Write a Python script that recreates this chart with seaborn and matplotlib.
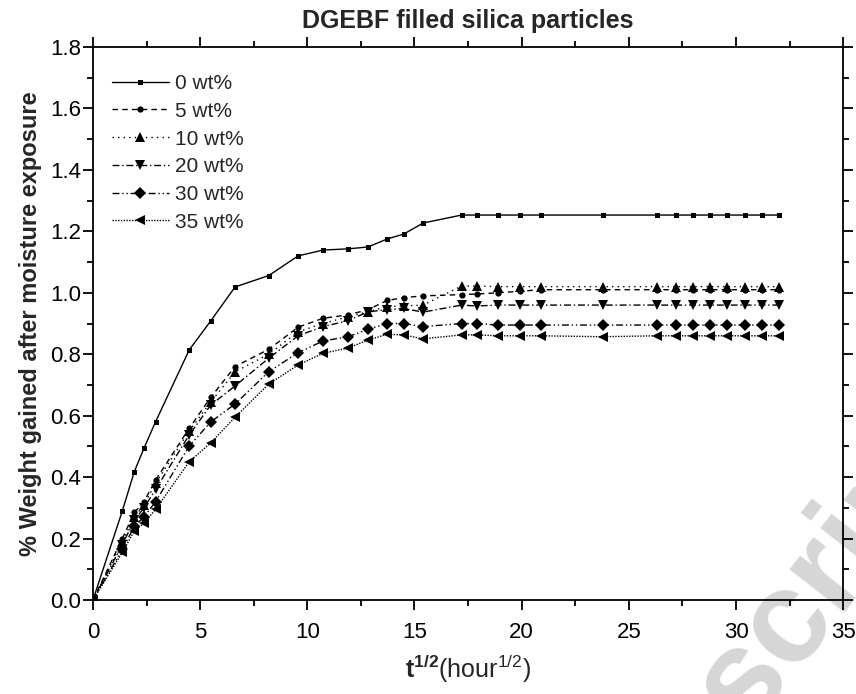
import matplotlib
matplotlib.use('Agg')
import matplotlib.pyplot as plt
import matplotlib.ticker as mticker
import pandas as pd
import seaborn as sns

# ---------------------------------------------------------------------------
# Dados (t^1/2 em hour^1/2, ganho de massa em %)
# ---------------------------------------------------------------------------
t_sqrt = [0, 1.37, 1.93, 2.38, 2.92, 4.49, 5.5, 6.63, 8.2, 9.57, 10.73, 11.9,
          12.83, 13.72, 14.5, 15.4, 17.2, 17.9, 18.9, 19.9, 20.9, 23.8, 26.3,
          27.2, 28.0, 28.8, 29.6, 30.4, 31.2, 32.0]

wt0 = [0, 0.29, 0.418, 0.494, 0.58, 0.814, 0.909, 1.019, 1.056, 1.12, 1.139,
       1.143, 1.149, 1.175, 1.191, 1.227, 1.253, 1.253, 1.253, 1.253, 1.253,
       1.253, 1.253, 1.253, 1.253, 1.253, 1.253, 1.253, 1.253, 1.253]
wt5 = [0, 0.20, 0.285, 0.32, 0.39, 0.559, 0.66, 0.76, 0.816, 0.888, 0.917,
       0.928, 0.945, 0.975, 0.984, 0.99, 0.994, 0.996, 1.0, 1.005, 1.01,
       1.01, 1.01, 1.01, 1.01, 1.01, 1.01, 1.01, 1.01, 1.01]
wt10 = [0, 0.19, 0.27, 0.31, 0.38, 0.55, 0.645, 0.743, 0.80, 0.873, 0.90,
        0.922, 0.938, 0.955, 0.957, 0.96, 1.022, 1.022, 1.02, 1.02, 1.02,
        1.02, 1.02, 1.02, 1.02, 1.02, 1.02, 1.02, 1.02, 1.02]
wt20 = [0, 0.18, 0.26, 0.30, 0.36, 0.537, 0.635, 0.697, 0.787, 0.86, 0.89,
        0.909, 0.938, 0.945, 0.949, 0.937, 0.96, 0.957, 0.96, 0.96, 0.96,
        0.96, 0.96, 0.96, 0.96, 0.96, 0.96, 0.96, 0.96, 0.96]
wt30 = [0, 0.165, 0.24, 0.27, 0.32, 0.501, 0.58, 0.638, 0.743, 0.805, 0.843,
        0.857, 0.881, 0.90, 0.90, 0.89, 0.90, 0.90, 0.895, 0.895, 0.895,
        0.895, 0.895, 0.895, 0.895, 0.895, 0.895, 0.895, 0.895, 0.895]
wt35 = [0, 0.155, 0.225, 0.25, 0.295, 0.45, 0.512, 0.595, 0.703, 0.765, 0.803,
        0.82, 0.846, 0.865, 0.863, 0.85, 0.863, 0.863, 0.86, 0.86, 0.86,
        0.857, 0.86, 0.86, 0.86, 0.86, 0.86, 0.86, 0.86, 0.86]

rotulos = ['0 wt%', '5 wt%', '10 wt%', '20 wt%', '30 wt%', '35 wt%']
series = [wt0, wt5, wt10, wt20, wt30, wt35]

# estilo de cada curva (marcador, tamanho, tracejado)
estilos = [
    ('s', 3.6, '-'),
    ('o', 4.5, (0, (4, 3))),
    ('^', 7.0, (0, (1, 3))),
    ('v', 7.0, (0, (5, 2, 1, 2))),
    ('D', 6.0, (0, (5, 2, 1, 2, 1, 2))),
    ('<', 7.0, (0, (1, 1))),
]

sns.set_theme(style='ticks')
plt.rcParams['font.family'] = ['Liberation Sans', 'DejaVu Sans']
plt.rcParams['mathtext.fontset'] = 'custom'
plt.rcParams['mathtext.rm'] = 'Liberation Sans'
plt.rcParams['mathtext.bf'] = 'Liberation Sans:bold'

fig = plt.figure(figsize=(8.56, 6.94), dpi=100)
ax = fig.add_axes([0.1086, 0.1354, 0.8764, 0.7969])
ax.set_facecolor('none')

# marca d'água cinza do manuscrito (cortada no canto, como no original)
fig.text(0.845, -0.01, 'Manuscript', rotation=52, fontsize=95, fontweight='bold',
         color='#d6d6d6', ha='center', va='center', zorder=-5)

for nome, y, (mk, ms, ls) in zip(rotulos, series, estilos):
    df = pd.DataFrame({'t': t_sqrt, 'w': y})
    sns.lineplot(data=df, x='t', y='w', ax=ax, color='black', linewidth=1.0,
                 linestyle=ls, marker=mk, markersize=ms, markeredgewidth=0,
                 label=nome)

ax.set_xlim(0, 35)
ax.set_ylim(0, 1.8)
ax.xaxis.set_major_locator(mticker.MultipleLocator(5))
ax.xaxis.set_minor_locator(mticker.MultipleLocator(2.5))
ax.yaxis.set_major_locator(mticker.MultipleLocator(0.2))
ax.yaxis.set_minor_locator(mticker.MultipleLocator(0.1))
ax.yaxis.set_major_formatter(mticker.FormatStrFormatter('%.1f'))

for s in ax.spines.values():
    s.set_linewidth(1.3)
    s.set_color('black')
ax.tick_params(which='both', direction='out', top=True, right=True,
               colors='black', width=1.3)
ax.tick_params(which='major', length=7, labelsize=16)
ax.tick_params(axis='x', which='major', pad=9)
ax.tick_params(axis='y', which='major', pad=1.5)
ax.tick_params(which='minor', length=4)

ax.set_title('DGEBF filled silica particles', fontsize=18, fontweight='bold',
             pad=14)
ax.set_xlabel(r'$\mathbf{t}^{\mathbf{1/2}}$(hour$^{1/2}$)', fontsize=18,
              labelpad=7)
ax.set_ylabel('% Weight gained after moisture exposure', fontsize=17,
              fontweight='bold', labelpad=6)

ax.legend(loc='upper left', frameon=False, fontsize=15, handlelength=2.75,
          labelspacing=0.42, handletextpad=0.3, borderaxespad=0.5,
          bbox_to_anchor=(0.0, 0.985))

plt.savefig('out.png', dpi=100)
plt.close()
